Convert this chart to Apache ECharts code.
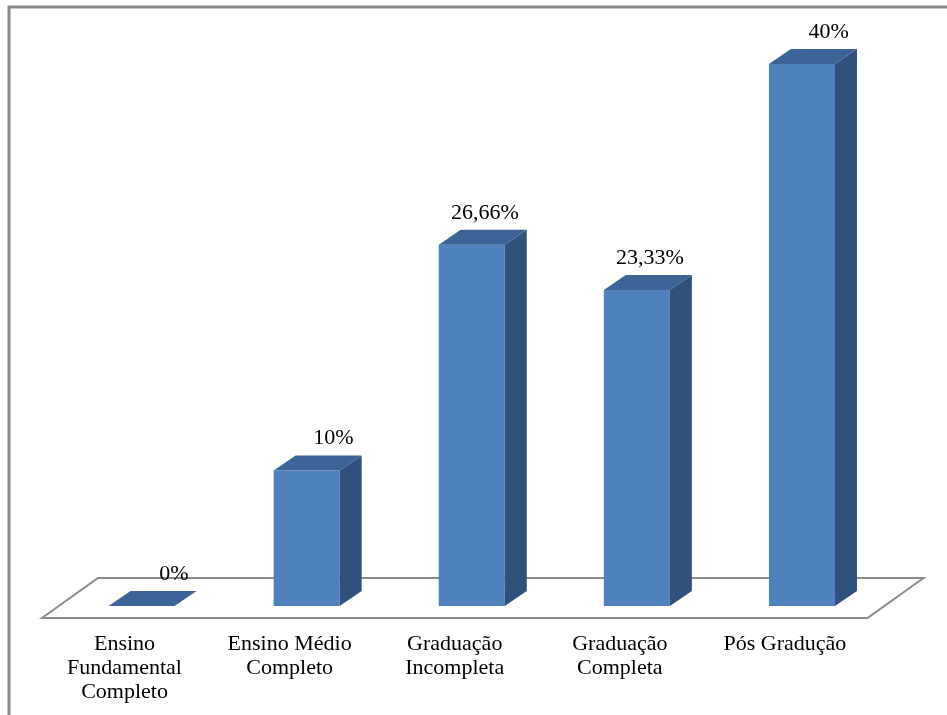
<!DOCTYPE html>
<html>
<head>
<meta charset="utf-8">
<title>Escolaridade</title>
<script src="https://cdn.jsdelivr.net/npm/echarts@6/dist/echarts.min.js"></script>
<style>
  html, body { margin: 0; padding: 0; background: #ffffff; }
  #chart { width: 947px; height: 715px; }
</style>
</head>
<body>
<div id="chart"></div>
<script>
// Education level categories and their shares (%)
const categories = [
  'Ensino\nFundamental\nCompleto',
  'Ensino Médio\nCompleto',
  'Graduação\nIncompleta',
  'Graduação\nCompleta',
  'Pós Gradução'
];
const values = [0, 10, 26.66, 23.33, 40];

// Value axis range
const yMin = 0;
const yMax = 40;

const FONT = '"Liberation Serif", "Times New Roman", serif';
const FRONT = '#4F81BD';
const TOP = '#3C6496';
const SIDE = '#30517B';
const DEPTH_X = 22;   // 3D extrusion of each bar
const DEPTH_Y = 15;

function fmt(v) {
  return String(v).replace('.', ',') + '%';
}

// Floor plane under the bars, drawn from the grid's extent
function renderFloor(params, api) {
  const cs = params.coordSys;
  const base = cs.y + cs.height;
  const l = cs.x, r = cs.x + cs.width;
  return {
    type: 'polygon',
    shape: {
      points: [
        [l - 17, base + 12],
        [r - 17, base + 12],
        [r + 39, base - 28],
        [l + 39, base - 28]
      ]
    },
    style: { fill: '#ffffff', stroke: '#8c8c8c', lineWidth: 2 }
  };
}

// A 3D box: front face, right side and top
function renderBar(params, api) {
  const i = api.value(0);
  const v = api.value(1);
  const top = api.coord([i, v]);
  const base = api.coord([i, 0]);
  const band = api.size([1, 0])[0];
  const w = band * 0.4;
  const x0 = base[0] - w / 2;
  const x1 = base[0] + w / 2;
  const yb = base[1];
  const yt = top[1];
  const dx = DEPTH_X, dy = DEPTH_Y;
  return {
    type: 'group',
    children: [
      {
        type: 'rect',
        shape: { x: x0, y: yt, width: w, height: yb - yt },
        style: { fill: FRONT }
      },
      {
        type: 'polygon',
        shape: { points: [[x1, yb], [x1 + dx, yb - dy], [x1 + dx, yt - dy], [x1, yt]] },
        style: { fill: SIDE }
      },
      {
        type: 'polygon',
        shape: { points: [[x0, yt], [x1, yt], [x1 + dx, yt - dy], [x0 + dx, yt - dy]] },
        style: { fill: TOP }
      },
      {
        type: 'text',
        style: {
          x: base[0] + 47,
          y: yt - dy - 17,
          text: fmt(v),
          align: 'right',
          verticalAlign: 'middle',
          fill: '#000000',
          font: '22px ' + FONT
        }
      }
    ]
  };
}

const chart = echarts.init(document.getElementById('chart'), null, { renderer: 'canvas' });

chart.setOption({
  backgroundColor: '#ffffff',
  animation: false,
  graphic: [
    {
      type: 'polyline',
      shape: { points: [[9, 715], [9, 7], [947, 7]] },
      style: { stroke: '#8a8a8a', lineWidth: 3, fill: null },
      z: 100
    }
  ],
  grid: { left: 59, width: 825.5, top: 64, bottom: 109 },
  xAxis: {
    type: 'category',
    data: categories,
    axisLine: { show: false },
    axisTick: { show: false },
    axisLabel: {
      interval: 0,
      margin: 26,
      color: '#000000',
      fontFamily: FONT,
      fontSize: 22,
      lineHeight: 24,
      align: 'center',
      padding: [0, 34, 0, 0]
    }
  },
  yAxis: {
    type: 'value',
    min: yMin,
    max: yMax,
    show: false,
    splitLine: { show: false }
  },
  series: [
    {
      type: 'custom',
      clip: false,
      z: 1,
      renderItem: renderFloor,
      data: [[0, 0]]
    },
    {
      type: 'custom',
      clip: false,
      z: 2,
      renderItem: renderBar,
      encode: { x: 0, y: 1 },
      data: values.map((v, i) => [i, v])
    }
  ]
});
</script>
</body>
</html>
